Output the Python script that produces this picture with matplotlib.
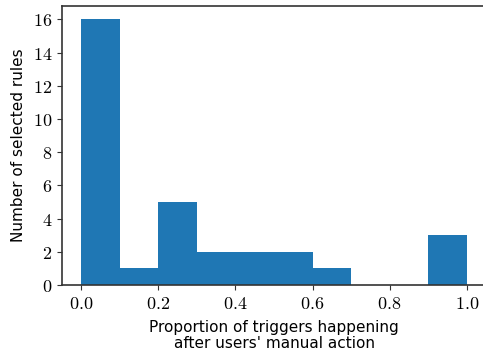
import matplotlib
matplotlib.use("Agg")
import matplotlib.pyplot as plt
import numpy as np
from matplotlib.ticker import FuncFormatter

plt.rc('font', size=11)
plt.rc('mathtext', fontset='cm')

bin_edges = [0.0, 0.1, 0.2, 0.3, 0.4, 0.5, 0.6, 0.7, 0.8, 0.9, 1.0]
rule_counts = [16, 1, 5, 2, 2, 2, 1, 0, 0, 3]
x_ticks = [0.0, 0.2, 0.4, 0.6, 0.8, 1.0]
y_ticks = [0, 2, 4, 6, 8, 10, 12, 14, 16]

if __name__ == '__main__':
    fig = plt.figure(figsize=(4.83, 3.56), dpi=100)
    ax = fig.add_axes([62 / 483, 1 - 285 / 356, (486 - 62) / 483, (285 - 6) / 356])

    centers = (np.array(bin_edges[:-1]) + np.array(bin_edges[1:])) / 2
    ax.hist(centers, bins=bin_edges, weights=rule_counts, color='#1f77b4')

    ax.set_xticks(x_ticks)
    ax.set_yticks(y_ticks)
    ax.xaxis.set_major_formatter(FuncFormatter(lambda v, p: f"${v:.1f}$"))
    ax.yaxis.set_major_formatter(FuncFormatter(lambda v, p: f"${int(v)}$"))
    ax.tick_params(labelsize=13, color='#333333')

    for s in ax.spines.values():
        s.set_color('#333333')
        s.set_linewidth(1.2)
    ax.spines['right'].set_visible(False)

    ax.set_ylabel("Number of selected rules", labelpad=5)
    ax.set_xlabel("Proportion of triggers happening\nafter users' manual action",
                  linespacing=1.1, labelpad=5)

    plt.savefig("out.png", dpi=100)
